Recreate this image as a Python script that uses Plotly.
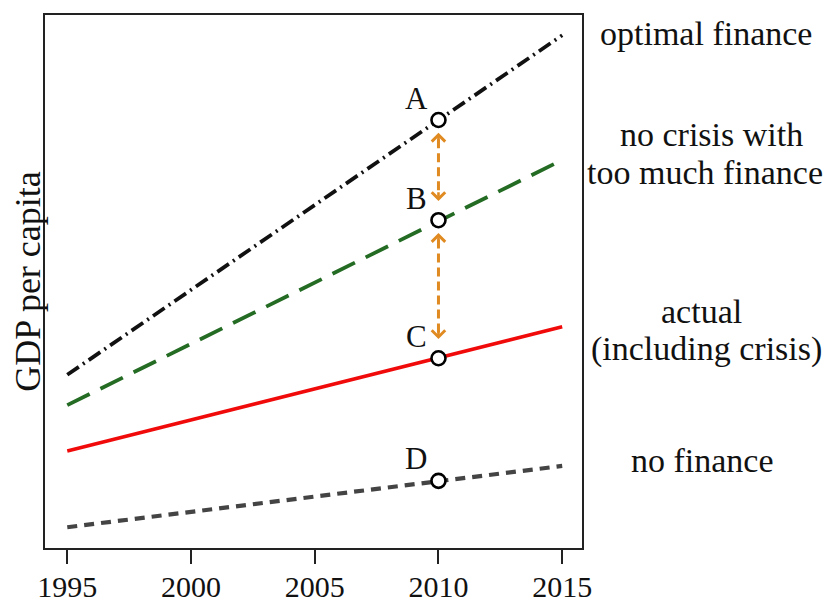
import plotly.graph_objects as go

# ---- data ----
years = [1995, 2015]
optimal = [32.5, 96.2]
too_much = [26.8, 72.8]
actual = [18.2, 41.5]
no_fin = [3.9, 15.4]

pt_year = 2010
pt_labels = ["A", "B", "C", "D"]
pt_values = [80.3, 61.5, 35.6, 12.6]

x_ticks = [1995, 2000, 2005, 2010, 2015]
y_title = "GDP per capita"

right_label_lines = ["optimal finance", "no crisis with", "too much finance",
                     "actual", "(including crisis)", "no finance"]

FONT = "Liberation Serif"
ORANGE = "#e08a22"

fig = go.Figure()

fig.add_trace(go.Scatter(x=years, y=optimal, mode="lines",
                         line=dict(color="#111111", width=3.8, dash="14px,5px,2px,5px")))
fig.add_trace(go.Scatter(x=years, y=too_much, mode="lines",
                         line=dict(color="#246b24", width=3.8, dash="25px,12px")))
fig.add_trace(go.Scatter(x=years, y=actual, mode="lines",
                         line=dict(color="#f00a0a", width=3.5)))
fig.add_trace(go.Scatter(x=years, y=no_fin, mode="lines",
                         line=dict(color="#444444", width=4.2, dash="10px,7px")))

# dashed orange double arrows between A-B and B-C
gap_top, gap_bot = 2.4, 3.6
head = 1.2
for up, lo in [(pt_values[0], pt_values[1]), (pt_values[1], pt_values[2])]:
    top_tip = up - gap_top
    bot_tip = lo + gap_bot
    fig.add_trace(go.Scatter(x=[pt_year, pt_year], y=[top_tip - head, bot_tip + head],
                             mode="lines",
                             line=dict(color=ORANGE, width=3, dash="9px,5px")))
    fig.add_annotation(x=pt_year, y=top_tip, ax=pt_year, ay=top_tip - head * 1.6,
                       xref="x", yref="y", axref="x", ayref="y", text="",
                       showarrow=True, arrowhead=4, arrowsize=1, arrowwidth=2.6,
                       arrowcolor=ORANGE)
    fig.add_annotation(x=pt_year, y=bot_tip, ax=pt_year, ay=bot_tip + head * 1.6,
                       xref="x", yref="y", axref="x", ayref="y", text="",
                       showarrow=True, arrowhead=4, arrowsize=1, arrowwidth=2.6,
                       arrowcolor=ORANGE)

fig.add_trace(go.Scatter(x=[pt_year] * len(pt_values), y=pt_values, mode="markers",
                         marker=dict(symbol="circle", size=14, color="white",
                                     line=dict(color="black", width=2.6))))

for lab, v in zip(pt_labels, pt_values):
    fig.add_annotation(x=pt_year, y=v, xref="x", yref="y", text=lab, showarrow=False,
                       xshift=-22, yshift=22,
                       font=dict(family=FONT, size=31, color="#111"))

label_pos = [(1.231, 0.966), (1.242, 0.775), (1.229, 0.705),
             (1.223, 0.443), (1.231, 0.373), (1.225, 0.165)]
for txt, (px, py) in zip(right_label_lines, label_pos):
    fig.add_annotation(x=px, y=py, xref="paper", yref="paper", text=txt,
                       showarrow=False, xanchor="center", yanchor="middle",
                       font=dict(family=FONT, size=34, color="#111"))

# page body adds an 8px offset; size the figure to fit the window
fig.update_layout(
    width=826, height=594,
    margin=dict(l=37, r=252, t=7, b=54, autoexpand=False),
    paper_bgcolor="white", plot_bgcolor="white",
    showlegend=False,
    font=dict(family=FONT, size=30, color="#111"),
)
fig.update_xaxes(range=[1994.1, 2015.8], tickvals=x_ticks, ticks="outside",
                 ticklen=14, tickwidth=1.5, tickcolor="#222",
                 showline=True, linecolor="#222", linewidth=1.5, mirror=True,
                 showgrid=False, zeroline=False, automargin=False,
                 ticklabelstandoff=-3,
                 tickfont=dict(family=FONT, size=30, color="#111"))
fig.update_yaxes(range=[0, 100], showticklabels=False, ticks="",
                 showline=True, linecolor="#222", linewidth=1.5, mirror=True,
                 showgrid=False, zeroline=False, automargin=False,
                 title=dict(text=y_title, standoff=14,
                            font=dict(family=FONT, size=36, color="#111")))

fig.write_html("out.html")
